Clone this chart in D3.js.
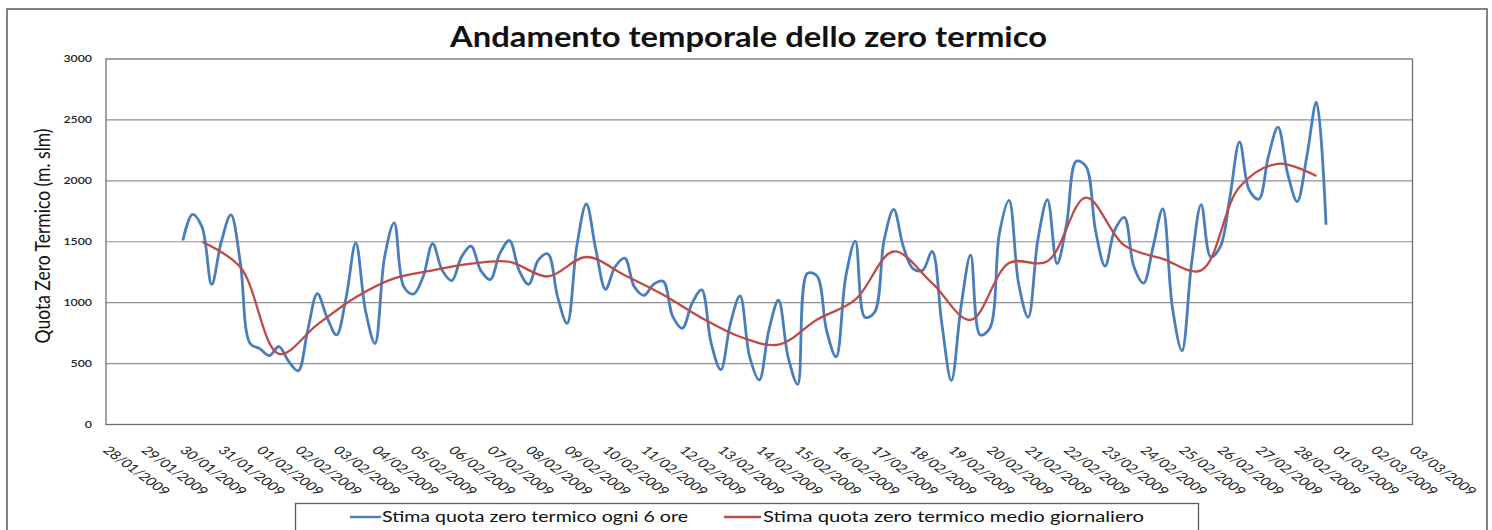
<!DOCTYPE html>
<html>
<head>
<meta charset="utf-8">
<script src="https://cdn.jsdelivr.net/npm/d3@7"></script>
<style>
  html, body { margin: 0; padding: 0; background: #fff; }
  svg { display: block; font-family: Lato, "Open Sans", sans-serif; }
</style>
</head>
<body>
<svg id="chart" width="1492" height="530"></svg>
<script>
// ---------- DATA ----------
const titleText = "Andamento temporale dello zero termico";
const yAxisTitle = "Quota Zero Termico (m. slm)";
const seriesNames = ["Stima quota zero termico ogni 6 ore", "Stima quota zero termico medio giornaliero"];

const tickLabels = ["28/01/2009","29/01/2009","30/01/2009","31/01/2009","01/02/2009","02/02/2009","03/02/2009",
  "04/02/2009","05/02/2009","06/02/2009","07/02/2009","08/02/2009","09/02/2009","10/02/2009","11/02/2009",
  "12/02/2009","13/02/2009","14/02/2009","15/02/2009","16/02/2009","17/02/2009","18/02/2009","19/02/2009",
  "20/02/2009","21/02/2009","22/02/2009","23/02/2009","24/02/2009","25/02/2009","26/02/2009","27/02/2009",
  "28/02/2009","01/03/2009","02/03/2009","03/03/2009"];

const yTicks = [0, 500, 1000, 1500, 2000, 2500, 3000];

// 6-hourly estimate, starting 30/01/2009 00:00, every 6 hours
const sixHourStart = "2009-01-30T00:00:00Z";
const sixHourValues = [
  1510,1725,1620,1150, 1500,1720,1320,665, 623,565,640,520, 440,775,1075,880,
  735,1045,1490,940, 665,1375,1655,1130, 1070,1210,1485,1265, 1180,1375,1465,1265,
  1190,1405,1510,1265, 1150,1350,1400,1050, 830,1460,1810,1430, 1110,1295,1365,1130,
  1060,1150,1175,885, 790,995,1105,665, 450,830,1055,555, 365,775,1020,555,
  330,1240,1220,775, 555,1210,1505,880, 920,1515,1765,1460, 1280,1265,1420,830,
  360,965,1390,735, 790,1570,1840,1155, 880,1515,1845,1320, 1650,2160,2120,1595,
  1300,1595,1700,1295, 1160,1460,1770,965, 605,1320,1805,1375, 1460,1870,2320,1925,
  1850,2200,2440,2060, 1830,2200,2645,1640
];

// daily mean, starting 30/01/2009 12:00, every day
const dailyStart = "2009-01-30T12:00:00Z";
const dailyValues = [
  1500,1290,580,820,1045,1200,1265,1320,1335,1215,1375,1225,1065,875,720,
  655,860,1025,1420,1160,858,1325,1340,1862,1470,1360,1265,1950,2140,2040
];

// ---------- LAYOUT ----------
const svg = d3.select("#chart");
const plot = { left: 106, right: 1412.5, top: 59, bottom: 424.5 };
const parseDMY = s => { const [d, m, y] = s.split("/").map(Number); return new Date(Date.UTC(y, m - 1, d)); };
const tickDates = tickLabels.map(parseDMY);

const x = d3.scaleUtc().domain([tickDates[0], tickDates[tickDates.length - 1]]).range([plot.left, plot.right]);
const y = d3.scaleLinear().domain([0, 3000]).range([plot.bottom, plot.top]);

const H6 = 6 * 3600 * 1000, DAY = 24 * 3600 * 1000;
const t0 = new Date(sixHourStart).getTime();
const d0 = new Date(dailyStart).getTime();
const sixData = sixHourValues.map((v, i) => ({ t: new Date(t0 + i * H6), v }));
const dayData = dailyValues.map((v, i) => ({ t: new Date(d0 + i * DAY), v }));

const blue = "#4a7ebb", red = "#be4b48";

// outer chart border
svg.append("rect").attr("x", 7).attr("y", 9).attr("width", 1480).attr("height", 560)
  .attr("fill", "none").attr("stroke", "#5a5a5a").attr("stroke-width", 1.5);

// title
svg.append("text").attr("x", 450).attr("y", 47)
  .attr("font-size", 28).attr("font-weight", "bold").attr("fill", "#111")
  .attr("textLength", 597).attr("lengthAdjust", "spacingAndGlyphs")
  .text(titleText);

// gridlines
svg.append("g").selectAll("line").data(yTicks.filter(d => d > 0 && d < 3000)).join("line")
  .attr("x1", plot.left).attr("x2", plot.right)
  .attr("y1", d => y(d)).attr("y2", d => y(d))
  .attr("stroke", "#8f8f8f").attr("stroke-width", 1.2);

// plot border
svg.append("rect").attr("x", plot.left).attr("y", plot.top)
  .attr("width", plot.right - plot.left).attr("height", plot.bottom - plot.top)
  .attr("fill", "none").attr("stroke", "#6f6f6f").attr("stroke-width", 1.3);

// y tick labels
svg.append("g").selectAll("text").data(yTicks).join("text")
  .attr("transform", d => `translate(92,${y(d)}) scale(1.3,1)`)
  .attr("text-anchor", "end").attr("dy", "0.36em")
  .attr("font-size", 9.5).attr("font-weight", 600).attr("fill", "#222")
  .text(d => d);

// y axis title
svg.append("text")
  .attr("transform", "translate(50,236) scale(1.4,1) rotate(-90)")
  .attr("text-anchor", "middle").attr("font-size", 15).attr("fill", "#111")
  .attr("textLength", 215).attr("lengthAdjust", "spacingAndGlyphs")
  .text(yAxisTitle);

// x tick labels (rotated)
svg.append("g").selectAll("text").data(tickDates).join("text")
  .attr("transform", d => `translate(${x(d) + 4},445) scale(1.35,1) rotate(45)`)
  .attr("dy", "0.72em").attr("font-size", 11.6).attr("fill", "#222")
  .text((d, i) => tickLabels[i]);

// lines
const line = d3.line().x(d => x(d.t)).y(d => y(d.v)).curve(d3.curveCatmullRom.alpha(0.5));
svg.append("path").datum(sixData).attr("d", line)
  .attr("fill", "none").attr("stroke", blue).attr("stroke-width", 2.8).attr("stroke-linejoin", "round");
svg.append("path").datum(dayData).attr("d", line)
  .attr("fill", "none").attr("stroke", red).attr("stroke-width", 2.3).attr("stroke-linejoin", "round");

// legend
const lg = svg.append("g");
lg.append("rect").attr("x", 295.5).attr("y", 503.5).attr("width", 903).attr("height", 40)
  .attr("fill", "#fff").attr("stroke", "#5a5a5a").attr("stroke-width", 1.3);
const legendItems = [
  { name: seriesNames[0], color: blue, x1: 350, x2: 381, tx: 382, tw: 306 },
  { name: seriesNames[1], color: red, x1: 724, x2: 761, tx: 763, tw: 381 }
];
legendItems.forEach(it => {
  lg.append("line").attr("x1", it.x1).attr("x2", it.x2).attr("y1", 517).attr("y2", 517)
    .attr("stroke", it.color).attr("stroke-width", 2.4);
  lg.append("text").attr("x", it.tx).attr("y", 522).attr("font-size", 14.5).attr("fill", "#111")
    .attr("textLength", it.tw).attr("lengthAdjust", "spacingAndGlyphs")
    .text(it.name);
});
</script>
</body>
</html>
